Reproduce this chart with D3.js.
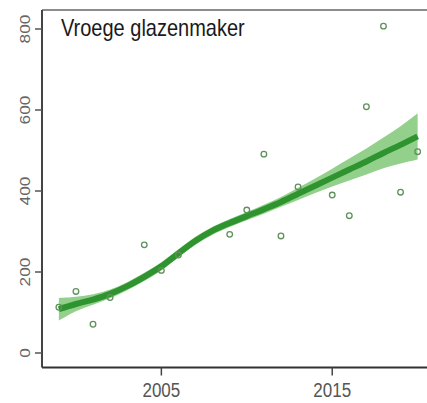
<!DOCTYPE html>
<html>
<head>
<meta charset="utf-8">
<script src="https://cdn.jsdelivr.net/npm/d3@7"></script>
<style>
  html, body { margin: 0; padding: 0; background: #fff; }
  svg { display: block; font-family: "Liberation Sans", Arial, sans-serif; }
</style>
</head>
<body>
<div id="chart"></div>
<script>
// observed yearly counts (open circles)
const pointYears = [1999, 2000, 2001, 2002, 2004, 2005, 2006, 2009, 2010, 2011, 2012, 2013, 2015, 2016, 2017, 2018, 2019, 2020];
const pointValues = [113, 152, 71, 137, 267, 204, 242, 293, 353, 491, 289, 410, 390, 339, 608, 807, 397, 497];

// smoothed trend with confidence band
const trendYears = [1999, 2000, 2001, 2002, 2003, 2004, 2005, 2006, 2007, 2008, 2009, 2010, 2011, 2012, 2013, 2014, 2015, 2016, 2017, 2018, 2019, 2020];
const trendFit = [108, 121, 132, 146, 165, 188, 214, 246, 277, 302, 321, 338, 355, 373, 393, 413, 433, 453, 473, 494, 514, 535];
const trendLower = [80, 103, 119, 135, 155, 178, 204, 236, 267, 292, 311, 328, 344, 361, 378, 395, 411, 426, 441, 456, 468, 478];
const trendUpper = [136, 139, 145, 157, 175, 198, 224, 256, 287, 312, 331, 348, 366, 385, 408, 431, 455, 480, 505, 532, 560, 592];

const xTicks = [2005, 2015];
const yTicks = [0, 200, 400, 600, 800];
const title = "Vroege glazenmaker";

const width = 427, height = 403;
const box = {left: 42, top: 10, bottom: 367.5, right: 432};

const svg = d3.select("#chart").append("svg")
    .attr("width", width)
    .attr("height", height);

// R-style 4% padding around data range
const x = d3.scaleLinear().domain([1998.16, 2020.84]).range([box.left + 2.5, box.right]);
const y = d3.scaleLinear().domain([0, 800]).range([353, 29]);

svg.append("clipPath").attr("id", "plotclip")
  .append("rect")
    .attr("x", box.left).attr("y", box.top)
    .attr("width", box.right - box.left).attr("height", box.bottom - box.top);

const plot = svg.append("g").attr("clip-path", "url(#plotclip)");

const trend = trendYears.map((yr, i) => ({yr, fit: trendFit[i], lo: trendLower[i], hi: trendUpper[i]}));

plot.append("path")
    .datum(trend)
    .attr("fill", "#93d08c")
    .attr("d", d3.area()
        .curve(d3.curveCatmullRom)
        .x(d => x(d.yr))
        .y0(d => y(d.lo))
        .y1(d => y(d.hi)));

plot.append("path")
    .datum(trend)
    .attr("fill", "none")
    .attr("stroke", "#2f942f")
    .attr("stroke-width", 6)
    .attr("d", d3.line()
        .curve(d3.curveCatmullRom)
        .x(d => x(d.yr))
        .y(d => y(d.fit)));

plot.append("g")
  .selectAll("circle")
  .data(pointYears.map((yr, i) => ({yr, v: pointValues[i]})))
  .join("circle")
    .attr("cx", d => x(d.yr))
    .attr("cy", d => y(d.v))
    .attr("r", 2.8)
    .attr("fill", "none")
    .attr("stroke", "#5e925a")
    .attr("stroke-width", 1.3);

// box: left, bottom dark, top lighter
svg.append("line")
    .attr("x1", box.left).attr("x2", box.right)
    .attr("y1", box.top).attr("y2", box.top)
    .attr("stroke", "#8c8c8c").attr("stroke-width", 2);
svg.append("line")
    .attr("x1", box.left).attr("x2", box.left)
    .attr("y1", box.top).attr("y2", box.bottom)
    .attr("stroke", "#444").attr("stroke-width", 2);
svg.append("line")
    .attr("x1", box.left).attr("x2", box.right)
    .attr("y1", box.bottom).attr("y2", box.bottom)
    .attr("stroke", "#333").attr("stroke-width", 2);

// y axis
const yAxis = svg.append("g");
yTicks.forEach(t => {
  yAxis.append("line")
      .attr("x1", box.left - 7).attr("x2", box.left)
      .attr("y1", y(t)).attr("y2", y(t))
      .attr("stroke", "#555").attr("stroke-width", 1.5);
  yAxis.append("text")
      .attr("transform", `translate(${box.left - 12},${y(t)}) rotate(-90) scale(1.15,1)`)
      .attr("text-anchor", "middle")
      .attr("fill", "#666")
      .attr("font-size", 15)
      .text(t);
});

// x axis
const xAxis = svg.append("g");
xTicks.forEach(t => {
  xAxis.append("line")
      .attr("x1", x(t)).attr("x2", x(t))
      .attr("y1", box.bottom).attr("y2", box.bottom + 8)
      .attr("stroke", "#444").attr("stroke-width", 1.5);
  xAxis.append("text")
      .attr("transform", `translate(${x(t)},${box.bottom + 29}) scale(1,1.15)`)
      .attr("text-anchor", "middle")
      .attr("fill", "#555")
      .attr("font-size", 17)
      .text(t);
});

svg.append("text")
    .attr("transform", "translate(61,36) scale(1,1.2)")
    .attr("fill", "#1a1a1a")
    .attr("font-size", 20)
    .text(title);
</script>
</body>
</html>
